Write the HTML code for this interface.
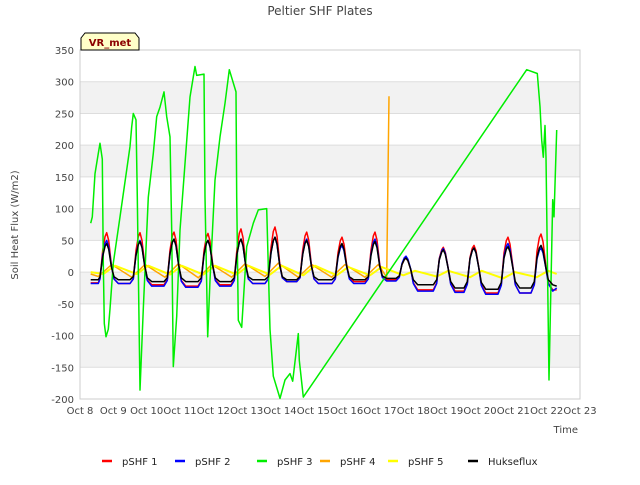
<!DOCTYPE html>
<html><head><meta charset="utf-8"><style>
body{margin:0;background:#fff;font-family:"Liberation Sans",sans-serif}
svg text{font-family:"DejaVu Sans","Liberation Sans",sans-serif}
</style></head><body>
<svg id="chart" width="640" height="480" viewBox="0 0 640 480">
<rect width="640" height="480" fill="#fff"/>
<g id="bands"></g>
<g id="grid"></g>
<rect x="80" y="50" width="500" height="349" fill="none" stroke="#ccc"/>
<g id="ticks"></g>
<g id="series"></g>
<text x="320" y="15" text-anchor="middle" font-size="12" fill="#444">Peltier SHF Plates</text>
<text x="18" y="225" text-anchor="middle" font-size="10" fill="#444" transform="rotate(-90 18 225)">Soil Heat Flux (W/m2)</text>
<text x="578" y="433" text-anchor="end" font-size="10" fill="#444">Time</text>
<g>
<path d="M81,50 L81,38 L85,33 L135,33 L139,38 L139,50 Z" fill="#ffffc8" stroke="#000"/>
<text x="110" y="46" text-anchor="middle" font-size="10" font-weight="bold" fill="#8b0000">VR_met</text>
</g>
<g id="legend"></g>
</svg>
<script>
const yTicks=[350,300,250,200,150,100,50,0,-50,-100,-150,-200];
const xTickLabels=["Oct 8","Oct 9","Oct 10","Oct 11","Oct 12","Oct 13","Oct 14","Oct 15","Oct 16","Oct 17","Oct 18","Oct 19","Oct 20","Oct 21","Oct 22","Oct 23"];
const peakDays=[0.8,1.8,2.82,3.84,4.83,5.85,6.8,7.86,8.85,9.78,10.9,11.82,12.84,13.83];
const redPeak=[62,62,63,61,68,71,63,55,63,22,39,42,55,60];
const redNight=[-18,-20,-22,-20,-18,-15,-18,-15,-12,-28,-30,-33,-33,-28];
const bluePeak=[50,50,52,50,52,55,52,42,52,25,37,38,45,38];
const blueNight=[-18,-22,-24,-22,-18,-15,-18,-18,-14,-30,-32,-35,-33,-30];
const blackPeak=[45,48,52,50,52,55,50,45,48,22,35,38,40,42];
const blackNight=[-12,-15,-15,-15,-12,-12,-12,-12,-10,-20,-25,-27,-25,-20];
const orangePeak=[12,12,13,12,13,14,12,12,12];
const orangeMin=[-7,-8,-8,-9,-8,-7,-8,-8,-8];
const yellowPeak=[10,10,10,10,10,10,10,8,8,2,2,2,0,2];
const yellowMin=[-3,-3,-4,-4,-4,-4,-5,-5,-5,-5,-7,-8,-10,-8];
const greenT=[0.32,0.37,0.45,0.55,0.6,0.67,0.7,0.73,0.78,0.85,0.9,1.0,1.2,1.4,1.5,1.55,1.6,1.68,1.72,1.8,1.9,2.05,2.2,2.3,2.4,2.52,2.6,2.7,2.75,2.8,2.9,3.0,3.15,3.3,3.45,3.5,3.72,3.75,3.83,3.9,4.05,4.2,4.35,4.48,4.68,4.7,4.75,4.85,5.0,5.2,5.35,5.6,5.7,5.8,6.0,6.15,6.3,6.38,6.55,6.58,6.7,13.4,13.72,13.8,13.85,13.9,13.95,13.98,14.07,14.18,14.22,14.3];
const greenV=[77,87,155,187,203,178,14,-81,-102,-90,-58,14,87,161,198,229,250,240,118,-186,-58,118,187,245,260,284,245,213,66,-149,-70,66,171,276,324,310,312,118,-102,-13,145,213,266,319,284,118,-76,-87,40,77,98,100,-90,-164,-199,-170,-160,-172,-97,-139,-197,319,313,261,208,181,231,181,-170,114,87,224];
const X=d=>80+d*500/15, Y=v=>50+(350-v)*349/550;
const NS="http://www.w3.org/2000/svg";
function mk(tag,attrs,parent){const e=document.createElementNS(NS,tag);for(const k in attrs)e.setAttribute(k,attrs[k]);parent.appendChild(e);return e;}
const bands=document.getElementById('bands'),grid=document.getElementById('grid'),ticks=document.getElementById('ticks');
for(let i=0;i<yTicks.length-1;i++){
 if(i%2===1){const r=mk('rect',{x:80,y:Y(yTicks[i]),width:500,height:Y(yTicks[i+1])-Y(yTicks[i]),fill:'#f2f2f2'},bands);
 
 }
}
yTicks.forEach(v=>{
 const l=mk('line',{x1:80,x2:580,y1:Y(v),y2:Y(v),stroke:'#ddd'},grid);
 
 
 const t=mk('text',{x:74,y:Y(v)+4,'text-anchor':'end','font-size':10,fill:'#444'},ticks);t.textContent=v;
 
 
});
xTickLabels.forEach((s,i)=>{
 const t=mk('text',{x:X(i),y:414,'text-anchor':'middle','font-size':10,fill:'#444'},ticks);t.textContent=s;
 
 
});
const series=document.getElementById('series');
function draw(pts,color,name,w){
 const p=mk('polyline',{points:pts.map(a=>X(a[0]).toFixed(1)+','+Y(a[1]).toFixed(1)).join(' '),fill:'none',stroke:color,'stroke-width':w||1.5,'stroke-linejoin':'round'},series);
 
 
}
function diurnal(peak,night,start,end){
 const pts=[[0.32,start],[0.55,start]];
 peakDays.forEach((d,i)=>{
  const prev=i?night[i-1]:start;
  pts.push([d-0.2,prev*0.6],[d-0.12,peak[i]*0.55],[d-0.05,peak[i]*0.9],[d,peak[i]],[d+0.06,peak[i]*0.8],[d+0.14,peak[i]*0.2],[d+0.22,night[i]*0.6],[d+0.35,night[i]]);
  if(i<peakDays.length-1)pts.push([peakDays[i+1]-0.3,night[i]]);
 });
 pts.push([14.3,end]);return pts;
}
const oPts=[[0.32,-3]];
orangePeak.forEach((p,i)=>{oPts.push([i+0.55,orangeMin[i]],[i+0.95,p]);});
oPts.push([9.2,-8],[9.27,277]);
draw(oPts,'#ffa500','series-pshf4');
const yPts=[[0.32,0]];
yellowPeak.forEach((p,i)=>{yPts.push([i+0.7,yellowMin[i]],[i+1.05,p]);});
yPts.push([14.3,-3]);
draw(yPts,'#ffff00','series-pshf5',2);
draw(diurnal(redPeak,redNight,-17,-28),'#ff0000','series-pshf1');
draw(diurnal(bluePeak,blueNight,-18,-25),'#0000ff','series-pshf2');
draw(greenT.map((t,i)=>[t,greenV[i]]),'#00ee00','series-pshf3');
draw(diurnal(blackPeak,blackNight,-12,-22),'#000000','series-hukseflux');
const legendNames=["pSHF 1","pSHF 2","pSHF 3","pSHF 4","pSHF 5","Hukseflux"];
const legendColors=["#ff0000","#0000ff","#00ee00","#ffa500","#ffff00","#000000"];
const legendX=[102,175,257,320,388,468];
const lg=document.getElementById('legend');
legendNames.forEach((n,i)=>{
 const g=mk('g',{},lg);
 
 
 mk('line',{x1:legendX[i],x2:legendX[i]+10,y1:461,y2:461,stroke:legendColors[i],'stroke-width':2.5},g);
 const t=mk('text',{x:legendX[i]+20,y:465,'font-size':10,fill:'#222'},g);t.textContent=n;
});
</script>
</body></html>
